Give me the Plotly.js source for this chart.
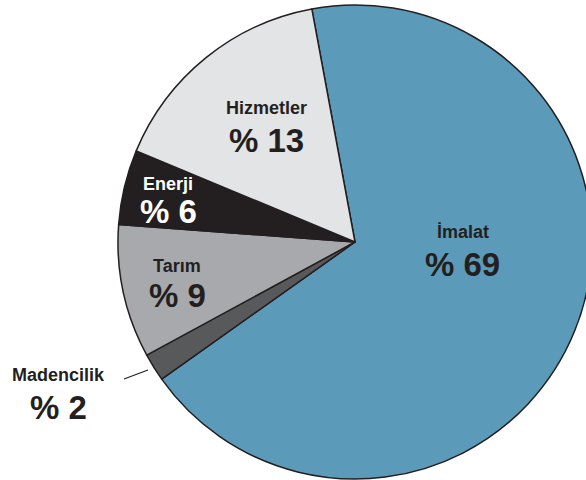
<!DOCTYPE html>
<html>
<head>
<meta charset="utf-8">
<script src="https://cdn.plot.ly/plotly-3.0.1.min.js"></script>
<style>
html, body { margin: 0; padding: 0; overflow: hidden; background: #ffffff; }
#chart { width: 600px; height: 480px; }
</style>
</head>
<body>
<div id="chart"></div>
<script>
// Data
var sectors = ["İmalat", "Madencilik", "Tarım", "Enerji", "Hizmetler"];
var sliceShares = [68.1, 1.9, 9.1, 5.1, 15.8];   // drawn slice sizes
var shownPercent = [69, 2, 9, 6, 13];            // printed percentages
var sliceColors = ["#5b9bb9", "#58595b", "#a7a9ac", "#231f20", "#e3e4e6"];

// Label styling / placement (pixels in a 600x480 canvas)
var W = 600, H = 480;
var labelStyle = {
  "İmalat":     { x: 463, ny: 232, py: 264, color: "#231f20" },
  "Madencilik": { x: 58,  ny: 375, py: 407, color: "#231f20" },
  "Tarım":      { x: 177, ny: 266, py: 295, color: "#231f20" },
  "Enerji":     { x: 168, ny: 184, py: 211, color: "#ffffff" },
  "Hizmetler":  { x: 266, ny: 108, py: 141, color: "#231f20" }
};

var annotations = [];
sectors.forEach(function (name, i) {
  var s = labelStyle[name];
  annotations.push({
    xref: "paper", yref: "paper", x: s.x / W, y: 1 - s.ny / H,
    xanchor: "center", yanchor: "middle", showarrow: false,
    text: name,
    font: { family: "Liberation Sans, Arial, sans-serif", size: 18, color: s.color, weight: "bold" }
  });
  annotations.push({
    xref: "paper", yref: "paper", x: s.x / W, y: 1 - s.py / H,
    xanchor: "center", yanchor: "middle", showarrow: false,
    text: "<b>% " + shownPercent[i] + "</b>",
    font: { family: "Liberation Sans, Arial, sans-serif", size: 33, color: s.color }
  });
});

var cx = 355, cy = 242, r = 237;

var trace = {
  type: "pie",
  labels: sectors,
  values: sliceShares,
  sort: false,
  direction: "clockwise",
  rotation: -10.5,
  textinfo: "none",
  hoverinfo: "none",
  marker: { colors: sliceColors, line: { color: "#231f20", width: 1.5 } },
  domain: {
    x: [(cx - r) / W, (cx + r) / W],
    y: [1 - (cy + r) / H, 1 - (cy - r) / H]
  },
  showlegend: false
};

var layout = {
  width: W, height: H,
  margin: { l: 0, r: 0, t: 0, b: 0, pad: 0 },
  paper_bgcolor: "#ffffff",
  showlegend: false,
  annotations: annotations,
  shapes: [{
    type: "line", xref: "paper", yref: "paper",
    x0: 124 / W, y0: 1 - 379 / H, x1: 148 / W, y1: 1 - 370 / H,
    line: { color: "#231f20", width: 1.2 }
  }]
};

Plotly.newPlot("chart", [trace], layout, { staticPlot: true, displayModeBar: false });
</script>
</body>
</html>
